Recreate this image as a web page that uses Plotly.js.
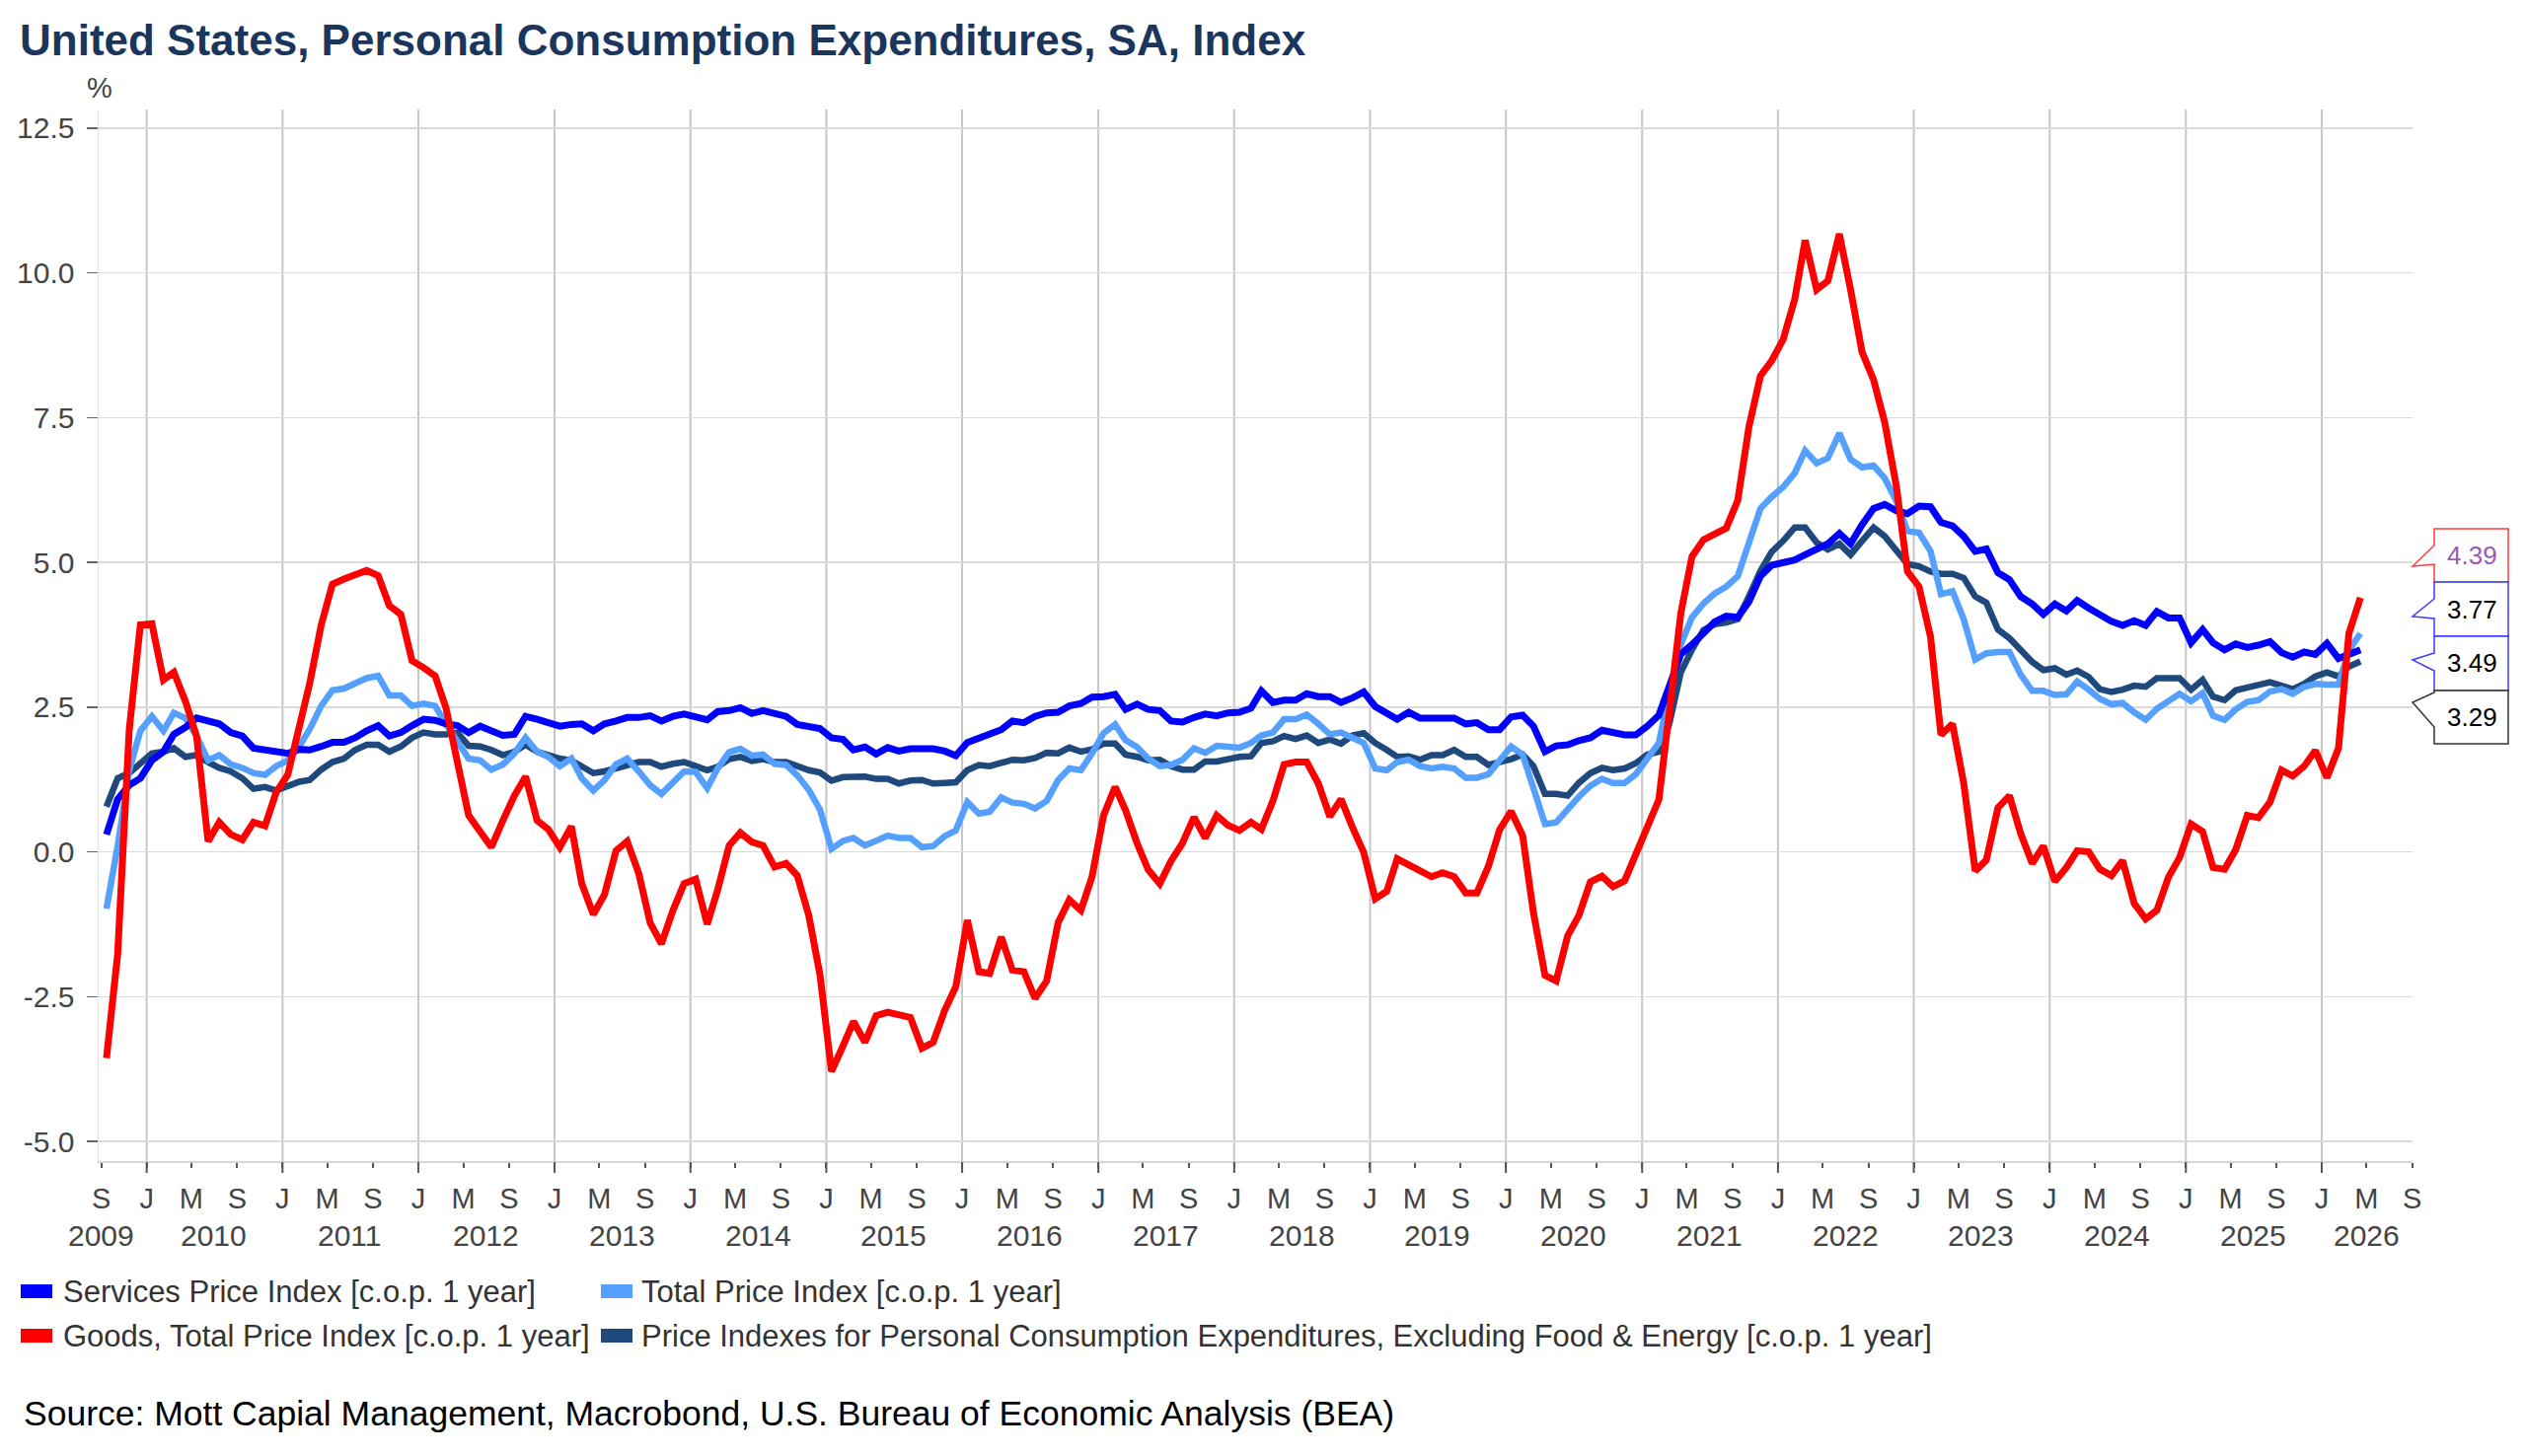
<!DOCTYPE html>
<html>
<head>
<meta charset="utf-8">
<script src="https://cdn.plot.ly/plotly-3.0.1.min.js"></script>
<style>
  html, body { margin: 0; padding: 0; background: #ffffff; }
  #chart { width: 2560px; height: 1476px; }
</style>
</head>
<body>
<div id="chart"></div>
<script>
// ---------------- DATA (monthly, Sep 2009 .. Apr 2026, % y/y) ----------------
const startYear = 2009;
const startMonth = 9;

const services = [
  0.30, 0.91, 1.15, 1.27,
  1.58, 1.73, 2.03, 2.15, 2.31, 2.27, 2.21, 2.06, 2.00, 1.79, 1.76, 1.71,
  1.70, 1.77, 1.76, 1.82, 1.89, 1.89, 1.97, 2.09, 2.18, 2.00, 2.06, 2.18,
  2.29, 2.27, 2.21, 2.18, 2.06, 2.17, 2.09, 2.01, 2.03, 2.34, 2.29, 2.24,
  2.17, 2.20, 2.21, 2.09, 2.21, 2.26, 2.32, 2.32, 2.35, 2.26, 2.34, 2.38,
  2.34, 2.28, 2.42, 2.44, 2.49, 2.39, 2.44, 2.38, 2.34, 2.20, 2.15, 2.13,
  1.97, 1.94, 1.76, 1.81, 1.69, 1.80, 1.74, 1.78, 1.78, 1.78, 1.74, 1.66,
  1.89, 1.97, 2.05, 2.11, 2.26, 2.23, 2.34, 2.40, 2.41, 2.52, 2.56, 2.67,
  2.68, 2.72, 2.46, 2.55, 2.46, 2.44, 2.26, 2.24, 2.32, 2.38, 2.35, 2.40,
  2.41, 2.48, 2.78, 2.58, 2.62, 2.62, 2.73, 2.68, 2.68, 2.58, 2.66, 2.76,
  2.51, 2.38, 2.29, 2.41, 2.31, 2.31, 2.32, 2.31, 2.21, 2.23, 2.11, 2.11,
  2.33, 2.36, 2.17, 1.73, 1.83, 1.85, 1.92, 1.97, 2.10, 2.05, 2.02, 2.02,
  2.17, 2.36, 2.88, 3.41, 3.58, 3.80, 3.97, 4.07, 4.05, 4.32, 4.76, 4.95,
  5.00, 5.04, 5.13, 5.23, 5.32, 5.50, 5.32, 5.65, 5.93, 6.00, 5.89, 5.84,
  5.97, 5.96, 5.69, 5.63, 5.45, 5.19, 5.23, 4.82, 4.70, 4.41, 4.28, 4.10,
  4.28, 4.16, 4.34, 4.21, 4.08, 3.98, 3.91, 3.99, 3.91, 4.15, 4.04, 4.04,
  3.61, 3.84, 3.61, 3.49, 3.59, 3.53, 3.57, 3.63, 3.44, 3.36, 3.45, 3.41,
  3.60, 3.34, 3.41, 3.49
];

const total = [
  -0.98, 0.10, 1.40, 2.09,
  2.34, 2.09, 2.40, 2.31, 2.00, 1.58, 1.67, 1.51, 1.45, 1.36, 1.33, 1.48,
  1.58, 1.82, 2.12, 2.52, 2.79, 2.82, 2.91, 3.00, 3.04, 2.70, 2.70, 2.52,
  2.56, 2.52, 2.21, 1.88, 1.61, 1.58, 1.42, 1.51, 1.70, 1.97, 1.73, 1.64,
  1.48, 1.61, 1.27, 1.06, 1.24, 1.51, 1.61, 1.39, 1.15, 1.00, 1.21, 1.39,
  1.38, 1.10, 1.44, 1.72, 1.78, 1.66, 1.68, 1.52, 1.50, 1.32, 1.07, 0.73,
  0.05, 0.19, 0.24, 0.11, 0.19, 0.28, 0.24, 0.24, 0.08, 0.10, 0.27, 0.37,
  0.86, 0.66, 0.69, 0.94, 0.85, 0.83, 0.75, 0.88, 1.24, 1.44, 1.41, 1.70,
  2.05, 2.20, 1.93, 1.81, 1.61, 1.48, 1.50, 1.59, 1.79, 1.71, 1.83, 1.81,
  1.80, 1.88, 2.01, 2.06, 2.29, 2.29, 2.37, 2.21, 2.03, 2.06, 1.97, 1.88,
  1.44, 1.41, 1.55, 1.59, 1.48, 1.44, 1.47, 1.44, 1.28, 1.28, 1.34, 1.58,
  1.82, 1.68, 1.14, 0.48, 0.51, 0.75, 0.95, 1.14, 1.26, 1.19, 1.19, 1.34,
  1.63, 1.88, 2.75, 3.58, 4.05, 4.29, 4.46, 4.58, 4.76, 5.34, 5.93, 6.13,
  6.30, 6.54, 6.93, 6.71, 6.80, 7.23, 6.78, 6.64, 6.67, 6.45, 6.06, 5.54,
  5.51, 5.19, 4.45, 4.50, 4.02, 3.32, 3.43, 3.45, 3.45, 3.06, 2.78, 2.78,
  2.71, 2.72, 2.94, 2.80, 2.64, 2.55, 2.57, 2.41, 2.28, 2.47, 2.59, 2.73,
  2.60, 2.74, 2.35, 2.28, 2.46, 2.59, 2.62, 2.77, 2.81, 2.73, 2.85, 2.90,
  2.89, 2.89, 3.48, 3.77
];

const goods = [
  -3.56, -1.77, 2.10, 3.92,
  3.94, 2.97, 3.10, 2.60, 2.00, 0.18, 0.51, 0.30, 0.21, 0.51, 0.45, 1.03,
  1.33, 2.12, 2.91, 3.92, 4.62, 4.71, 4.77, 4.86, 4.77, 4.25, 4.10, 3.30,
  3.18, 3.04, 2.49, 1.58, 0.63, 0.35, 0.08, 0.54, 0.97, 1.30, 0.54, 0.39,
  0.08, 0.44, -0.55, -1.08, -0.74, 0.02, 0.18, -0.37, -1.23, -1.59, -1.01, -0.55,
  -0.47, -1.25, -0.66, 0.11, 0.33, 0.17, 0.11, -0.26, -0.20, -0.41, -1.10, -2.12,
  -3.79, -3.35, -2.93, -3.29, -2.83, -2.77, -2.80, -2.86, -3.39, -3.29, -2.74, -2.33,
  -1.18, -2.07, -2.10, -1.47, -2.04, -2.07, -2.53, -2.23, -1.22, -0.83, -1.01, -0.43,
  0.63, 1.12, 0.72, 0.15, -0.31, -0.55, -0.16, 0.15, 0.60, 0.24, 0.63, 0.46,
  0.37, 0.51, 0.39, 0.88, 1.51, 1.55, 1.55, 1.18, 0.61, 0.91, 0.42, -0.01,
  -0.81, -0.68, -0.12, -0.22, -0.31, -0.43, -0.36, -0.43, -0.71, -0.71, -0.25, 0.38,
  0.70, 0.28, -1.05, -2.13, -2.23, -1.45, -1.10, -0.52, -0.42, -0.60, -0.50, -0.03,
  0.41, 0.90, 2.41, 4.12, 5.10, 5.39, 5.49, 5.59, 6.07, 7.34, 8.22, 8.48,
  8.85, 9.54, 10.56, 9.71, 9.86, 10.67, 9.71, 8.63, 8.15, 7.41, 6.32, 4.84,
  4.58, 3.71, 2.02, 2.21, 1.19, -0.33, -0.14, 0.76, 0.97, 0.32, -0.20, 0.10,
  -0.51, -0.27, 0.02, 0.00, -0.30, -0.41, -0.15, -0.89, -1.16, -1.01, -0.44, -0.10,
  0.48, 0.35, -0.27, -0.30, 0.04, 0.63, 0.59, 0.86, 1.41, 1.31, 1.48, 1.75,
  1.28, 1.79, 3.77, 4.39
];

const core = [
  0.78, 1.27, 1.36, 1.51,
  1.70, 1.73, 1.79, 1.64, 1.67, 1.55, 1.45, 1.39, 1.27, 1.09, 1.12, 1.06,
  1.15, 1.21, 1.24, 1.42, 1.55, 1.61, 1.76, 1.85, 1.85, 1.73, 1.82, 1.97,
  2.06, 2.03, 2.03, 2.06, 1.83, 1.82, 1.76, 1.67, 1.73, 1.85, 1.73, 1.67,
  1.61, 1.58, 1.48, 1.36, 1.39, 1.45, 1.48, 1.55, 1.55, 1.47, 1.52, 1.55,
  1.48, 1.41, 1.47, 1.60, 1.64, 1.57, 1.60, 1.55, 1.55, 1.47, 1.41, 1.37,
  1.23, 1.29, 1.29, 1.30, 1.26, 1.26, 1.18, 1.23, 1.24, 1.18, 1.19, 1.20,
  1.41, 1.50, 1.48, 1.55, 1.59, 1.58, 1.62, 1.71, 1.70, 1.80, 1.73, 1.77,
  1.87, 1.87, 1.68, 1.64, 1.58, 1.59, 1.48, 1.42, 1.42, 1.56, 1.56, 1.60,
  1.64, 1.65, 1.88, 1.91, 2.00, 1.95, 2.01, 1.88, 1.94, 1.87, 2.01, 2.05,
  1.88, 1.76, 1.64, 1.65, 1.59, 1.67, 1.67, 1.76, 1.64, 1.64, 1.50, 1.55,
  1.60, 1.68, 1.48, 1.00, 1.00, 0.97, 1.19, 1.36, 1.45, 1.41, 1.44, 1.53,
  1.68, 1.73, 2.21, 3.10, 3.49, 3.83, 3.93, 3.96, 4.02, 4.41, 4.85, 5.18,
  5.37, 5.60, 5.60, 5.34, 5.22, 5.32, 5.13, 5.37, 5.60, 5.45, 5.19, 4.97,
  4.93, 4.84, 4.80, 4.80, 4.73, 4.41, 4.30, 3.84, 3.69, 3.50, 3.28, 3.14,
  3.17, 3.06, 3.13, 3.02, 2.81, 2.76, 2.80, 2.87, 2.85, 3.00, 3.00, 3.00,
  2.80, 2.97, 2.68, 2.62, 2.79, 2.83, 2.89, 2.93, 2.87, 2.81, 2.90, 3.03,
  3.10, 3.03, 3.20, 3.29
];

const seriesNames = [
  'Services Price Index [c.o.p. 1 year]',
  'Total Price Index [c.o.p. 1 year]',
  'Goods, Total Price Index [c.o.p. 1 year]',
  'Price Indexes for Personal Consumption Expenditures, Excluding Food & Energy [c.o.p. 1 year]'
];

// axis tick labels
const yTickValues = [-5, -2.5, 0, 2.5, 5, 7.5, 10, 12.5];
const tickMonthLetters = { 1: 'J', 5: 'M', 9: 'S' };
const firstTickYear = 2009, lastTickYear = 2026;
const yearLabels = ['2009','2010','2011','2012','2013','2014','2015','2016','2017',
                    '2018','2019','2020','2021','2022','2023','2024','2025','2026'];

const title = 'United States, Personal Consumption Expenditures, SA, Index';
const sourceText = 'Source: Mott Capial Management, Macrobond, U.S. Bureau of Economic Analysis (BEA)';

// ---------------- BUILD ----------------
function pad(n) { return (n < 10 ? '0' : '') + n; }
const dates = [];
for (let i = 0; i < services.length; i++) {
  const m = startMonth - 1 + i;
  const y = startYear + Math.floor(m / 12);
  dates.push(y + '-' + pad(m % 12 + 1) + '-15');
}

const tickvals = [], ticktext = [];
for (let y = firstTickYear; y <= lastTickYear; y++) {
  [1, 5, 9].forEach(mm => {
    if (y === firstTickYear && mm < 9) return;
    tickvals.push(y + '-' + pad(mm) + '-01');
    ticktext.push(tickMonthLetters[mm]);
  });
}
const yTickText = yTickValues.map(v => v.toFixed(1));

// plot frame in pixels
const W = 2560, H = 1476;
const L = 100, R = 2445, T = 111, B = 1177;
const px = x => (x - L) / (R - L);
const py = y => (B - y) / (B - T);

const FONT = 'Liberation Sans, Arial, Helvetica, sans-serif';
const TXT = '#444444';
const colors = { services: '#0000ff', total: '#55a0ff', goods: '#ff0000', core: '#1f497d' };

const traces = [
  { x: dates, y: core, name: seriesNames[3], mode: 'lines', line: { color: colors.core, width: 6.5 } },
  { x: dates, y: total, name: seriesNames[1], mode: 'lines', line: { color: colors.total, width: 6.5 } },
  { x: dates, y: services, name: seriesNames[0], mode: 'lines', line: { color: colors.services, width: 7 } },
  { x: dates, y: goods, name: seriesNames[2], mode: 'lines', line: { color: colors.goods, width: 7 } }
].map(t => Object.assign(t, { showlegend: false, hoverinfo: 'x+y+name' }));

const shapes = [];
const annotations = [];

// vertical year gridlines at January + long ticks
for (let y = firstTickYear + 1; y <= lastTickYear; y++) {
  const d = y + '-01-01';
  shapes.push({ type: 'line', xref: 'x', yref: 'paper', x0: d, x1: d, y0: 0, y1: 1,
                line: { color: '#c6c6c6', width: 2 }, layer: 'below' });
  shapes.push({ type: 'line', xref: 'x', yref: 'paper', x0: d, x1: d, y0: py(1178), y1: py(1189),
                line: { color: '#555555', width: 2 }, layer: 'above' });
}

// year labels
yearLabels.forEach((yl, i) => {
  const yr = parseInt(yl, 10);
  let d = yr + '-07-01';
  if (i === 0) d = yr + '-09-01';
  if (i === yearLabels.length - 1) d = yr + '-05-01';
  annotations.push({ xref: 'x', yref: 'paper', x: d, y: py(1252), text: yl, showarrow: false,
                     xanchor: 'center', yanchor: 'middle', font: { family: FONT, size: 30, color: TXT } });
});

// "%" unit label
annotations.push({ xref: 'paper', yref: 'paper', x: px(101), y: py(89), text: '%', showarrow: false,
                   xanchor: 'center', yanchor: 'middle', font: { family: FONT, size: 29, color: TXT } });

// legend (custom, two rows)
const legendItems = [
  { name: seriesNames[0], color: colors.services, mx: 21, tx: 62, row: 1309 },
  { name: seriesNames[1], color: colors.total, mx: 609, tx: 648, row: 1309 },
  { name: seriesNames[2], color: colors.goods, mx: 21, tx: 62, row: 1354 },
  { name: seriesNames[3], color: colors.core, mx: 609, tx: 648, row: 1354 }
];
legendItems.forEach(it => {
  shapes.push({ type: 'rect', xref: 'paper', yref: 'paper', x0: px(it.mx), x1: px(it.mx + 32),
                y0: py(it.row - 7), y1: py(it.row + 7), fillcolor: it.color, line: { width: 0 } });
  annotations.push({ xref: 'paper', yref: 'paper', x: px(it.tx), y: py(it.row), text: it.name, showarrow: false,
                     xanchor: 'left', yanchor: 'middle', font: { family: FONT, size: 31, color: '#333333' } });
});

// source
annotations.push({ xref: 'paper', yref: 'paper', x: px(22), y: py(1433), text: sourceText, showarrow: false,
                   xanchor: 'left', yanchor: 'middle', font: { family: FONT, size: 35.5, color: '#000000' } });

// end-value callouts (values taken from last data points)
const lastVals = [goods, total, services, core].map(a => a[a.length - 1].toFixed(2));
const boxes = [
  { top: 536, bot: 590, up: 553, tip: 574, low: 572, border: '#ff3b3b', text: '#9b59b6' },
  { top: 590, bot: 645, up: 607, tip: 625, low: 627, border: '#3a3aff', text: '#000000' },
  { top: 645, bot: 700, up: 662, tip: 669, low: 680, border: '#3a3aff', text: '#000000' },
  { top: 700, bot: 754, up: 702, tip: 712, low: 737, border: '#333333', text: '#000000' }
];
const bx0 = 2467, bx1 = 2542, tipX = 2445;
boxes.forEach((b, i) => {
  const path = 'M ' + px(bx0) + ' ' + py(b.top) + ' L ' + px(bx1) + ' ' + py(b.top) +
               ' L ' + px(bx1) + ' ' + py(b.bot) + ' L ' + px(bx0) + ' ' + py(b.bot) +
               ' L ' + px(bx0) + ' ' + py(b.low) + ' L ' + px(tipX) + ' ' + py(b.tip) +
               ' L ' + px(bx0) + ' ' + py(b.up) + ' Z';
  shapes.push({ type: 'path', xref: 'paper', yref: 'paper', path: path, fillcolor: '#ffffff',
                line: { color: b.border, width: 1.5 }, layer: 'above' });
  annotations.push({ xref: 'paper', yref: 'paper', x: px((bx0 + bx1) / 2 + 1), y: py((b.top + b.bot) / 2),
                     text: lastVals[i], showarrow: false, xanchor: 'center', yanchor: 'middle',
                     font: { family: FONT, size: 26, color: b.text } });
});

const layout = {
  width: W, height: H,
  margin: { l: L, r: W - R, t: T, b: H - B, pad: 0 },
  paper_bgcolor: '#ffffff', plot_bgcolor: '#ffffff',
  font: { family: FONT, size: 29, color: TXT },
  title: { text: '<b>' + title + '</b>', xref: 'container', yref: 'container', x: 20 / W, xanchor: 'left',
           y: 1 - 41 / H, yanchor: 'middle', font: { family: FONT, size: 44, color: '#1b365d' } },
  showlegend: false,
  xaxis: {
    type: 'date', range: ['2009-08-25', '2026-09-02'], autorange: false,
    tickmode: 'array', tickvals: tickvals, ticktext: ticktext, tickangle: 0,
    ticks: 'outside', ticklen: 5, tickwidth: 2, tickcolor: '#555555',
    ticklabelstandoff: 7,
    tickfont: { family: FONT, size: 29, color: TXT },
    showgrid: false, zeroline: false, showline: true, linecolor: '#d6d6d6', linewidth: 1.5,
    automargin: false
  },
  yaxis: {
    range: [-5.34, 12.82], autorange: false,
    tickmode: 'array', tickvals: yTickValues, ticktext: yTickText,
    ticks: 'outside', ticklen: 11, tickwidth: 1.5, tickcolor: '#666666',
    ticklabelstandoff: 6,
    tickfont: { family: FONT, size: 30, color: TXT },
    showgrid: true, gridcolor: '#dadada', gridwidth: 1.5, zeroline: false,
    showline: true, linecolor: '#e0e0e0', linewidth: 1.5, automargin: false
  },
  shapes: shapes,
  annotations: annotations
};

Plotly.newPlot('chart', traces, layout, { displayModeBar: false, staticPlot: true });
</script>
</body>
</html>
